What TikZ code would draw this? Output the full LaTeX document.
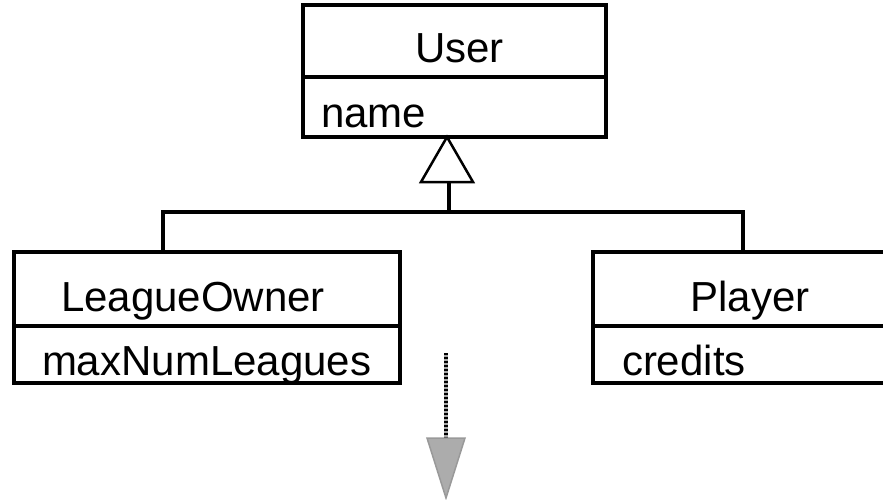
\documentclass[tikz,border=0pt]{standalone}
\usepackage{fontspec}
\setmainfont{Liberation Sans}
\usetikzlibrary{arrows.meta,positioning,calc}

\begin{document}
\begin{tikzpicture}[
      x=1pt, y=-1pt,
      classhead/.style={draw, line width=4pt, outer sep=0pt, anchor=north west, align=center, inner sep=0pt,
                        text height=44pt, text depth=0pt, font=\fontsize{42}{48}\selectfont},
      classattr/.style={draw, line width=4pt, outer sep=0pt, anchor=north west, align=left, inner ysep=0pt,
                        text height=41pt, text depth=0pt, font=\fontsize{42}{48}\selectfont},
      tree/.style={line width=4pt},
      dither/.style={black, line width=4pt, dash pattern=on 2pt off 2pt}
    ]
    \clip (0,0) rectangle (883,500);
    \useasboundingbox (0,0) rectangle (883,500);

    % Nodes
    \node[classhead, minimum width=303pt, minimum height=72pt] (user) at (303,5) {\hspace*{10pt}User};
    \node[classattr, minimum width=303pt, minimum height=60pt, text width=267pt, inner xsep=18pt] (userattr) at (user.south west) {name};
    \node[classhead, minimum width=386pt, minimum height=74pt] (owner) at (14,252) {LeagueOwner\hspace*{28pt}};
    \node[classattr, minimum width=386pt, minimum height=57pt, text width=330pt, inner xsep=28pt] (ownerattr) at (owner.south west) {maxNumLeagues};
    \node[classhead, minimum width=300pt, minimum height=74pt] (player) at (593,252) {\hspace*{14pt}Player};
    \node[classattr, minimum width=300pt, minimum height=57pt, text width=242pt, inner xsep=29pt] (playerattr) at (player.south west) {credits};

    % Generalization
    \coordinate (apex) at (447,137);
    \coordinate (join) at (449,212);
    \coordinate (ownerstem) at (163,252);
    \coordinate (playerstem) at (743,252);
    \draw[line width=2.5pt, fill=white] (apex) -- ++(26,45) -- ++(-52,0) -- cycle;
    \draw[tree] ($(apex)+(2,45)$) -- (join);
    \draw[tree] (ownerstem) |- (join) -| (playerstem);

    % Dithered arrow
    \coordinate (arrtop) at (446,353);
    \coordinate (arrbase) at (446,438);
    \coordinate (arrtip) at (446,498);
    \draw[gray!70, line width=4pt] (arrtop) -- (arrbase);
    \draw[dither] (arrtop) -- (arrbase);
    \draw[fill=gray!65, draw=gray!80, line width=1.5pt] ($(arrbase)+(-19,0)$) -- ($(arrbase)+(19,0)$) -- (arrtip) -- cycle;
  \end{tikzpicture}
\end{document}
